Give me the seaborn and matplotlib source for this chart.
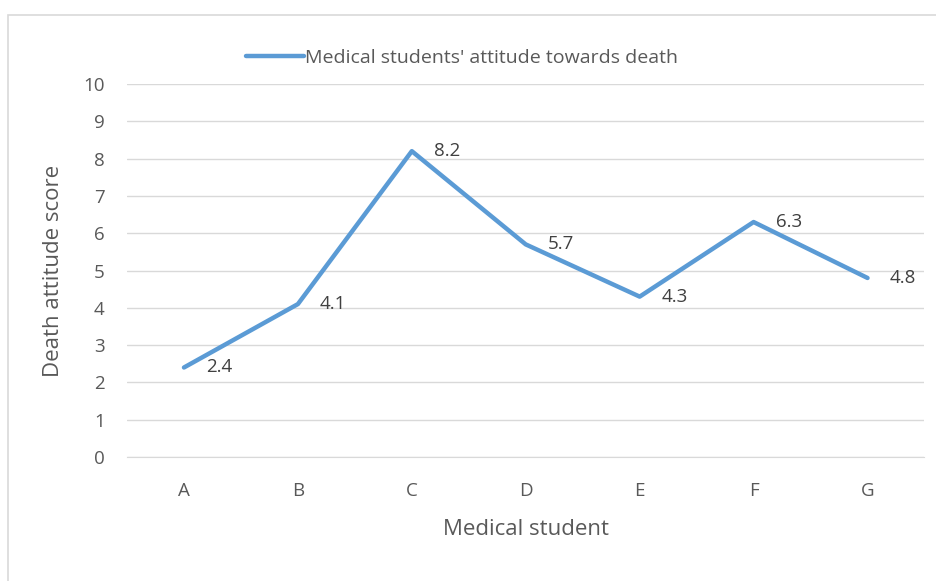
import matplotlib.pyplot as plt
import seaborn as sns
import pandas as pd
from matplotlib.patches import Rectangle

students = ["A", "B", "C", "D", "E", "F", "G"]
scores = [2.4, 4.1, 8.2, 5.7, 4.3, 6.3, 4.8]
yticks = list(range(0, 11))

df = pd.DataFrame({"Medical student": students, "score": scores})

sns.set_style("white")
plt.rcParams['font.family'] = ['Open Sans', 'DejaVu Sans']
text_col = "#595959"
line_col = "#5B9BD5"

fig = plt.figure(figsize=(9.36, 5.81), dpi=100)
ax = fig.add_axes([0.1357, 0.2134, 0.852, 0.642])

sns.lineplot(x="Medical student", y="score", data=df, ax=ax, color=line_col,
             linewidth=3.2, label="Medical students' attitude towards death",
             solid_capstyle="round", sort=False)

for i, v in enumerate(scores):
    ax.annotate(f"{v}", (i, v), xytext=(16, 0), textcoords="offset points",
                ha="left", va="center", fontsize=13.5, color="#404040")

ax.set_xlim(-0.5, 6.5)
ax.set_ylim(0, 10)
ax.set_yticks(yticks)
ax.yaxis.grid(True, color="#D9D9D9", linewidth=1)
ax.xaxis.grid(False)
for s in ax.spines.values():
    s.set_visible(False)
ax.spines["bottom"].set_visible(True)
ax.spines["bottom"].set_color("#D9D9D9")
ax.tick_params(axis="both", length=0, labelsize=13.5, colors=text_col)
ax.tick_params(axis="x", pad=18)
ax.tick_params(axis="y", pad=16)
ax.set_xlabel("Medical student", fontsize=16, color=text_col, labelpad=14)
ax.set_ylabel("Death attitude score", fontsize=16, color=text_col, labelpad=14)

leg = ax.legend(loc="lower center", bbox_to_anchor=(0.42, 1.0), frameon=False,
                fontsize=14, handlelength=3.0, handletextpad=0.05)
for t in leg.get_texts():
    t.set_color(text_col)

fig.patches.append(Rectangle((8 / 936, -0.1), 1.0, 1.1 - 15 / 581, transform=fig.transFigure,
                             fill=False, edgecolor="#D9D9D9", linewidth=1.2))

plt.savefig("out.png", dpi=100)
